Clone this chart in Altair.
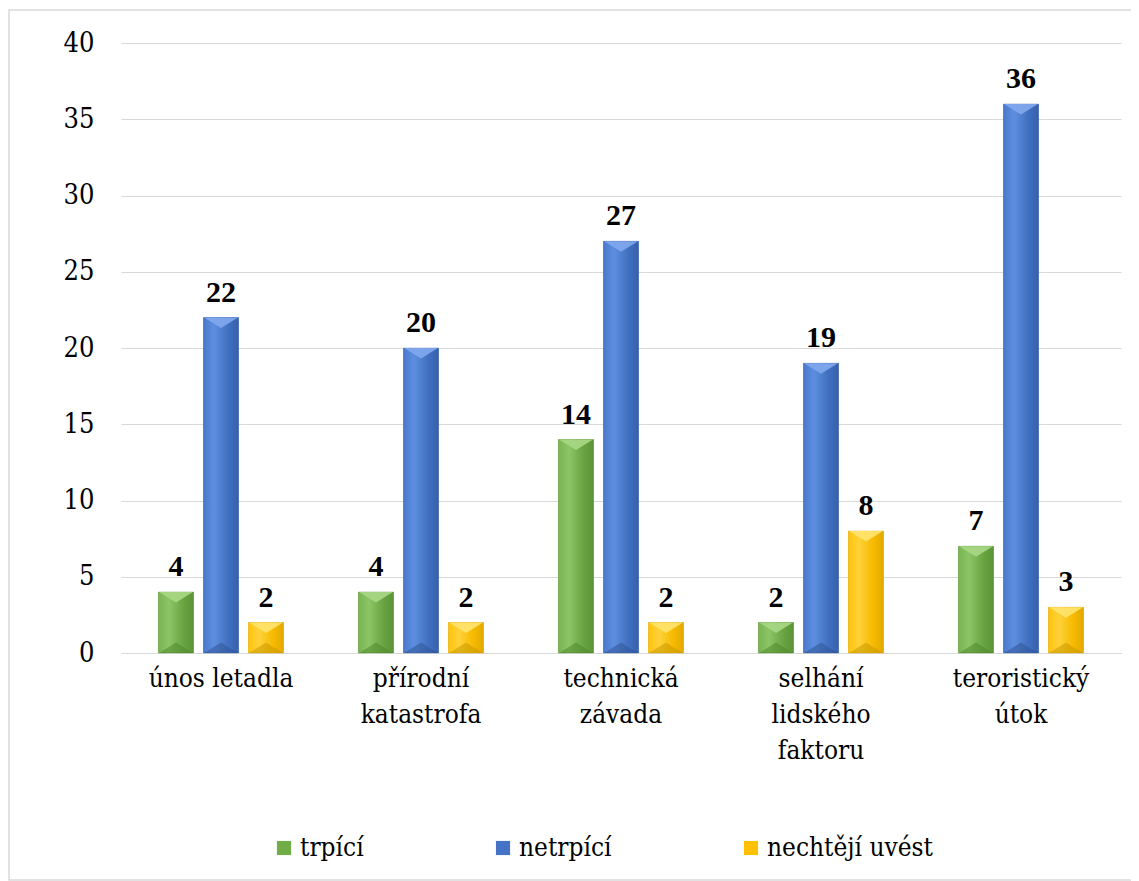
import altair as alt
import pandas as pd

categories = ["únos letadla", "přírodní katastrofa", "technická závada",
              "selhání lidského faktoru", "teroristický útok"]
series = ["trpící", "netrpící", "nechtějí uvést"]
trpici = [4, 4, 14, 2, 7]
netrpici = [22, 20, 27, 19, 36]
nechteji = [2, 2, 2, 8, 3]

base_colors = ["#70AD47", "#4472C4", "#FFC000"]
light_colors = ["#A6D683", "#7FA6EC", "#FFE36A"]
dark_colors = ["#4E8A2C", "#2F5597", "#C99700"]
grad_stops = [
    ["#79B453", "#8CC565", "#6AA542", "#5A9436"],
    ["#4A78CB", "#5D8FE0", "#4170C0", "#3660AE"],
    ["#FFC20A", "#FFD23A", "#F7BB00", "#E3A800"],
]

rows = []
for s, vals in zip(series, [trpici, netrpici, nechteji]):
    for c, v in zip(categories, vals):
        rows.append({"kategorie": c, "skupina": s, "hodnota": v})
df = pd.DataFrame(rows)

REG = "DejaVu Serif Condensed"
FS = 27

x_enc = alt.X("kategorie:N", sort=categories,
              scale=alt.Scale(paddingInner=0.375, paddingOuter=0.1875),
              axis=alt.Axis(title=None, labelAngle=0, ticks=False,
                            domainColor="#d9d9d9", labelPadding=12,
                            labelFont=REG, labelFontSize=26, labelColor="black",
                            labelLineHeight=36, labelBaseline="top",
                            labelExpr="datum.label == 'únos letadla' ? datum.label : split(datum.label, ' ')"))
xoff = alt.XOffset("skupina:N", sort=series,
                   scale=alt.Scale(paddingInner=0.222, paddingOuter=0))
y_enc = alt.Y("hodnota:Q", scale=alt.Scale(domain=[0, 40]),
              axis=alt.Axis(title=None, values=list(range(0, 41, 5)), domain=False,
                            ticks=False, gridColor="#d9d9d9", labelPadding=27,
                            labelFont=REG, labelFontSize=FS, labelColor="black"))

base = alt.Chart(df)

flat = base.mark_bar().encode(
    x=x_enc, xOffset=xoff, y=y_enc,
    color=alt.Color("skupina:N", sort=series,
                    scale=alt.Scale(domain=series, range=base_colors),
                    legend=alt.Legend(title=None, orient="none", direction="horizontal",
                                      legendX=150, legendY=792,
                                      symbolType="square", symbolSize=200,
                                      symbolStrokeWidth=0, columnPadding=126,
                                      labelFont=REG, labelFontSize=26, labelLimit=400,
                                      labelColor="black", labelOffset=3)),
)

layers = [flat]
for i, s in enumerate(series):
    st = grad_stops[i]
    grad = alt.Gradient(gradient="linear", x1=0, x2=1, y1=0, y2=0,
                        stops=[alt.GradientStop(color=st[0], offset=0),
                               alt.GradientStop(color=st[1], offset=0.3),
                               alt.GradientStop(color=st[2], offset=0.7),
                               alt.GradientStop(color=st[3], offset=1)])
    sub = base.transform_filter(alt.datum.skupina == s)
    layers.append(sub.mark_bar(color=grad, stroke=dark_colors[i], strokeWidth=0.6,
                               strokeOpacity=0.6)
                  .encode(x=x_enc, xOffset=xoff, y=y_enc))
    layers.append(sub.mark_point(shape="M-1,0L1,0L0,0.62Z", size=1150, filled=True,
                                 color=light_colors[i], opacity=0.95)
                  .encode(x=x_enc, xOffset=xoff, y=y_enc))
    layers.append(sub.mark_point(shape="M-1,0L1,0L0,-0.62Z", size=1150, filled=True,
                                 color=dark_colors[i], opacity=0.55)
                  .encode(x=x_enc, xOffset=xoff, y=alt.datum(0)))

labels = base.mark_text(font="Times New Roman", fontSize=30, fontWeight="bold", color="black",
                        baseline="bottom", dy=-10).encode(
    x=x_enc, xOffset=xoff, y=y_enc, text="hodnota:Q")
layers.append(labels)

border = alt.Chart(pd.DataFrame({"a": [0]})).mark_rect(
    fill=None, stroke="#d9d9d9", strokeWidth=1.5).encode(
    x=alt.value(-112), x2=alt.value(1016), y=alt.value(-33), y2=alt.value(837))
layers.insert(0, border)

chart = alt.layer(*layers).properties(
    width=1000, height=610,
    autosize=alt.AutoSizeParams(type="none"),
    padding={"left": 113, "top": 35, "right": 10, "bottom": 228},
    background="white",
).configure_view(stroke=None)

chart.save("out.html", embed_options={"renderer": "svg", "actions": False})
